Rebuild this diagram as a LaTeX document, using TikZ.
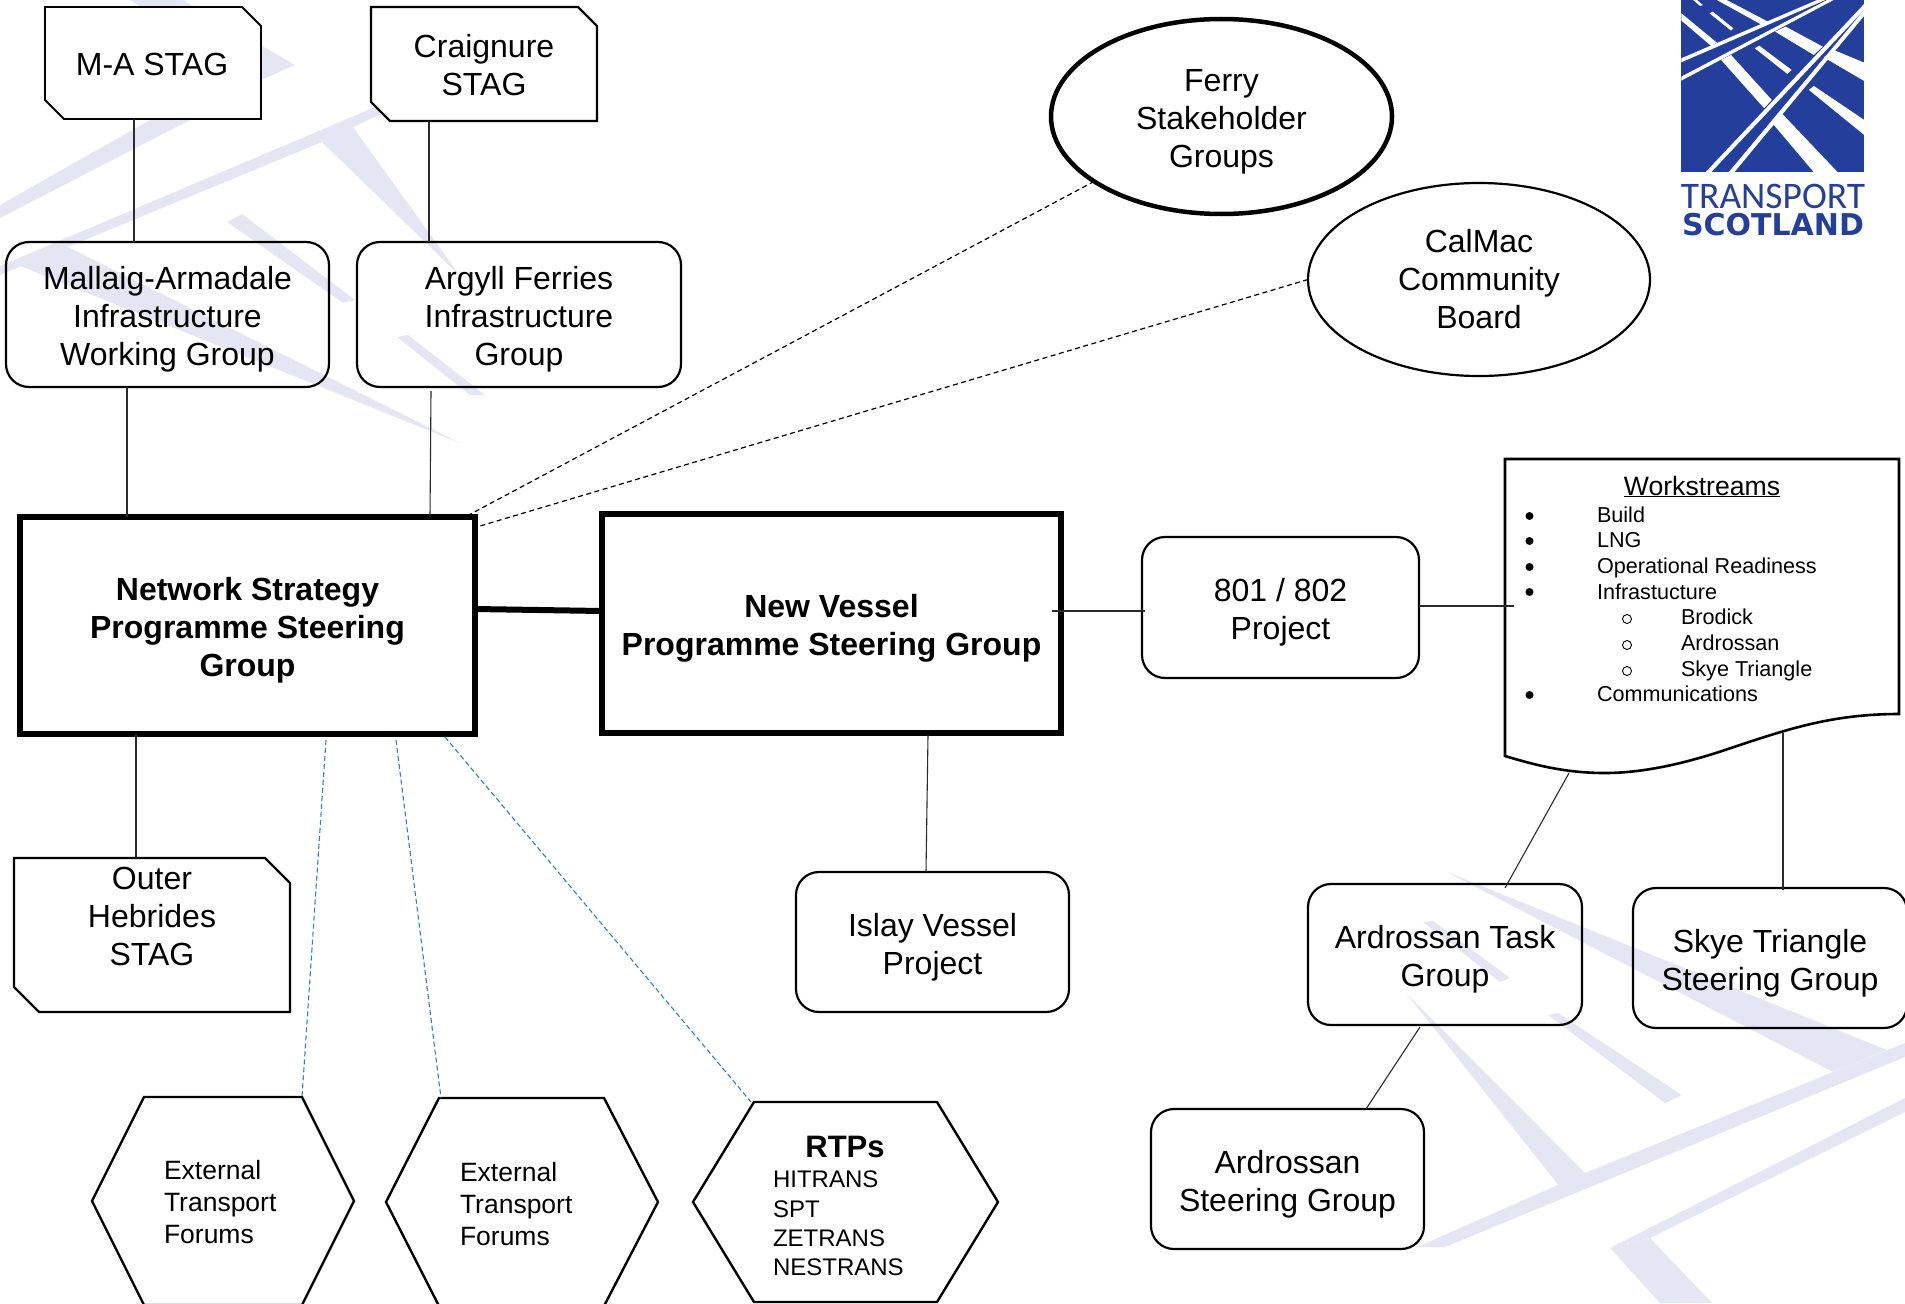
\documentclass[tikz,border=0pt]{standalone}
\usepackage{fontspec}
\setmainfont{Liberation Sans}
\newfontfamily\logolight{Carlito}
\newfontfamily\logobold{DejaVu Sans}
\usetikzlibrary{shapes.geometric}
\definecolor{wmark}{HTML}{E4E7F3}
\definecolor{tsblue}{HTML}{233F9B}
\definecolor{linkblue}{HTML}{2E80C8}
\definecolor{linkgrey}{HTML}{2A2A2A}
\newcommand{\fs}[2]{\fontsize{#1}{#2}\selectfont}
\newcommand{\Tp}{\rule{0pt}{33pt}}
\newcommand{\chamf}[3]{\draw[fill=white,line width=#3pt,line join=miter]
  (#1.north west) -- ([xshift=-#2]#1.north east) -- ([yshift=-#2]#1.north east)
  -- (#1.south east) -- ([xshift=#2]#1.south west) -- ([yshift=#2]#1.south west) -- cycle;}
\tikzset{
  every node/.style={inner sep=0pt,outer sep=0pt},
  label32/.style={font=\fs{32}{38},align=center},
  roundbox/.style={draw,line width=2.2pt,rounded corners=23pt,label32},
  bigbox/.style={draw,fill=white,line width=5.5pt,font=\fs{32}{38}\bfseries,align=center},
  link/.style={line width=1.1pt,color=linkgrey},
  dashlink/.style={line width=1.2pt,dash pattern=on 5pt off 3.5pt},
  bluelink/.style={line width=1.1pt,color=linkblue,dash pattern=on 5pt off 3pt},
  wm/.style={fill=wmark,draw=none},
  hexline/.style={draw,line width=2.4pt,line join=miter},
  small27/.style={font=\fs{26.5}{32},align=left,anchor=west},
  rtp/.style={font=\fs{24}{29},anchor=base west},
  ws/.style={font=\fs{21.6}{26},anchor=base west},
  bullfill/.style={circle,fill=black,minimum size=8pt},
  bullopen/.style={circle,draw=black,line width=0.9pt,minimum size=9pt},
  logo/.style={fill=white,draw=none}
}
\begin{document}
\begin{tikzpicture}[x=1pt,y=-1pt]
\useasboundingbox (0,0) rectangle (1905,1303);
\clip (0,0) rectangle (1905,1303);
% watermark
\fill[wm] (183,0) -- (295,65) -- (261,80) -- (130,0) -- cycle;
\fill[wm] (0,205) -- (150,120) -- (190,120) -- (0,218) -- cycle;
\fill[wm] (0,266) -- (373,108) -- (385,112) -- (322,142) -- (0,275) -- cycle;
\fill[wm] (322,142) -- (353,127) -- (460,276) -- cycle;
\fill[wm] (227,222) -- (242,214) -- (355,300) -- (343,303) -- cycle;
\fill[wm] (397,337) -- (408,335) -- (485,395) -- (470,395) -- cycle;
\fill[wm] (18,265) -- (60,243) -- (460,443) -- cycle;
\fill[wm] (1905,1043) -- (1833,1072) -- (1585,1173) -- (1417,1247) -- (1445,1247) -- (1905,1057) -- cycle;
\fill[wm] (1887,1050) -- (1833,1072) -- (1447,872) -- cycle;
\fill[wm] (1548,1015) -- (1558,1013) -- (1682,1095) -- (1665,1103) -- cycle;
\fill[wm] (1585,1173) -- (1560,1187) -- (1406,993) -- cycle;
\fill[wm] (1423,922) -- (1433,921) -- (1510,978) -- (1500,982) -- cycle;
\fill[wm] (1905,1098) -- (1610,1248) -- (1650,1238) -- (1905,1112) -- cycle;
\fill[wm] (1610,1248) -- (1650,1238) -- (1712,1303) -- (1660,1303) -- cycle;
% logo
\begin{scope}[shift={(1640,0)},x=0.331pt,y=-0.333pt]
\fill[tsblue] (125,0) rectangle (677,517);
\fill[logo] (125,40) -- (125,62) -- (215,138) -- (232,128) -- cycle;
\fill[logo] (245,180) -- (275,165) -- (398,300) -- (375,325) -- cycle;
\fill[logo] (428,340) -- (400,370) -- (525,517) -- (597,517) -- cycle;
\fill[logo] (232,0) -- (262,0) -- (392,68) -- (365,73) -- cycle;
\fill[logo] (440,80) -- (408,95) -- (525,165) -- (552,140) -- cycle;
\fill[logo] (585,150) -- (555,172) -- (677,243) -- (677,188) -- cycle;
\fill[logo] (160,0) -- (172,0) -- (190,15) -- (182,18) -- cycle;
\fill[logo] (210,40) -- (220,35) -- (282,85) -- (275,92) -- cycle;
\fill[logo] (347,145) -- (360,137) -- (458,210) -- (445,222) -- cycle;
\fill[logo] (510,270) -- (525,258) -- (677,360) -- (677,405) -- cycle;
\fill[logo] (125,175) -- (125,187) -- (560,0) -- (535,0) -- cycle;
\fill[logo] (125,230) -- (125,242) -- (585,0) -- (565,0) -- cycle;
\fill[logo] (198,517) -- (215,517) -- (677,30) -- (677,12) -- cycle;
\fill[logo] (268,517) -- (285,517) -- (677,48) -- (677,30) -- cycle;
\end{scope}
\node[font=\logolight\fs{37.5}{36},text=tsblue] (logot) at (1773,196) {TRANSPORT};
\node[font=\logobold\fs{30}{30}\bfseries,text=tsblue] (logos) at (1773,225) {SCOTLAND};
% STAG boxes
\node[minimum width=216pt,minimum height=112pt] (ma) at (153,63) {};
\chamf{ma}{19}{1.8}
\node[label32] (matext) at (152,64) {M-A STAG};
\node[minimum width=226pt,minimum height=114pt] (cr) at (484,64) {};
\chamf{cr}{19}{2.4}
\node[label32] (crtext) at (484,65) {Craignure\\STAG};
\node[minimum width=276pt,minimum height=154pt] (oh) at (152,935) {};
\chamf{oh}{25}{2.2}
\node[label32] (ohtext) at (152,916.5) {Outer\\Hebrides\\STAG};
% other nodes
\node[roundbox,minimum width=323pt,minimum height=145pt] (mall) at (167.5,314.5) {\Tp Mallaig-Armadale\\Infrastructure\\Working Group};
\node[roundbox,minimum width=324pt,minimum height=145pt] (arg) at (519,314.5) {\Tp Argyll Ferries\\Infrastructure\\Group};
\node[draw,line width=4.5pt,ellipse,minimum width=341pt,minimum height=195pt,label32] (ferry) at (1221.5,116.5) {\Tp Ferry\\Stakeholder\\Groups};
\node[draw,line width=2.2pt,ellipse,minimum width=342pt,minimum height=193pt,label32] (cal) at (1479,279.5) {CalMac\\Community\\Board};
\node[bigbox,minimum width=455pt,minimum height=217pt] (ns) at (247.5,625.5) {\Tp Network Strategy\\Programme Steering\\Group};
\node[bigbox,minimum width=459pt,minimum height=219pt] (nv) at (831.5,623.5) {\Tp New Vessel\\Programme Steering Group};
\node[roundbox,minimum width=277pt,minimum height=141pt] (p801) at (1280.5,607.5) {\Tp 801 / 802\\Project};
\node[roundbox,minimum width=273pt,minimum height=140pt] (islay) at (932.5,942) {\Tp Islay Vessel\\Project};
\node[roundbox,minimum width=274pt,minimum height=141pt] (atg) at (1445,954.5) {\Tp Ardrossan Task\\Group};
\node[roundbox,minimum width=274pt,minimum height=140pt] (skye) at (1770,958) {\Tp Skye Triangle\\Steering Group};
\node[roundbox,minimum width=273pt,minimum height=140pt] (asg) at (1287.5,1179) {\Tp Ardrossan\\Steering Group};
% workstreams document
\node[minimum width=394pt,minimum height=314pt] (doc) at (1702,616) {};
\draw[line width=2.6pt,line join=miter] (doc.north west) -- (doc.north east) -- (1899,714)
  .. controls (1830,714) and (1785,730) .. (1725,750)
  .. controls (1680,765) and (1640,773) .. (1605,773)
  .. controls (1565,773) and (1535,765) .. (1505,756) -- cycle;
\node[font=\fs{26.6}{30},anchor=base] (wst) at (1702,495) {\underline{Workstreams}};
\node[ws] (b1) at (1597,522) {Build};
\node[ws] (b2) at (1597,547.7) {LNG};
\node[ws] (b3) at (1597,573.4) {Operational Readiness};
\node[ws] (b4) at (1597,599.1) {Infrastucture};
\node[ws] (b5) at (1681,624.8) {Brodick};
\node[ws] (b6) at (1681,650.5) {Ardrossan};
\node[ws] (b7) at (1681,676.2) {Skye Triangle};
\node[ws] (b8) at (1597,701.9) {Communications};
\node[bullfill] (d1) at (1529.5,516) {};
\node[bullfill] (d2) at (1529.5,541) {};
\node[bullfill] (d3) at (1529.5,567) {};
\node[bullfill] (d4) at (1529.5,592) {};
\node[bullopen] (d5) at (1627,619) {};
\node[bullopen] (d6) at (1627,645) {};
\node[bullopen] (d7) at (1627,671) {};
\node[bullfill] (d8) at (1529.5,695) {};
% hexagons
\node[minimum width=262pt,minimum height=208pt] (h1) at (223,1201) {};
\draw[hexline] ([xshift=52]h1.north west) -- ([xshift=-52]h1.north east) -- (h1.east) -- ([xshift=-52]h1.south east) -- ([xshift=52]h1.south west) -- (h1.west) -- cycle;
\node[small27] (h1t) at (164,1202) {External\\Transport\\Forums};
\node[minimum width=272pt,minimum height=208pt] (h2) at (522,1202) {};
\draw[hexline] ([xshift=53]h2.north west) -- ([xshift=-54]h2.north east) -- (h2.east) -- ([xshift=-54]h2.south east) -- ([xshift=53]h2.south west) -- (h2.west) -- cycle;
\node[small27] (h2t) at (460,1204) {External\\Transport\\Forums};
\node[minimum width=305pt,minimum height=200pt] (h3) at (845.5,1202) {};
\draw[hexline] ([xshift=61]h3.north west) -- ([xshift=-61]h3.north east) -- (h3.east) -- ([xshift=-61]h3.south east) -- ([xshift=61]h3.south west) -- (h3.west) -- cycle;
\node[font=\fs{31}{31}\bfseries,anchor=base] (h3a) at (845,1157) {RTPs};
\node[rtp] (h3b) at (773,1187) {HITRANS};
\node[rtp] (h3c) at (773,1217) {SPT};
\node[rtp] (h3d) at (773,1246) {ZETRANS};
\node[rtp] (h3e) at (773,1275) {NESTRANS};
% connectors
\draw[link] ([xshift=-19]ma.south) -- ([xshift=-33.5]mall.north);
\draw[link] ([xshift=-55]cr.south) -- ([xshift=-90]arg.north);
\draw[link] ([xshift=-40.5]mall.south) -- ([xshift=-120.5]ns.north);
\draw[link] ([xshift=-88,yshift=-4]arg.south) -- ([xshift=182.5]ns.north);
\draw[link] ([xshift=-111.5]ns.south) -- ([xshift=-16]oh.north);
\draw[dashlink] (ferry.207) -- ([xshift=-10]ns.north east);
\draw[dashlink] (cal.west) -- ([xshift=5,yshift=-9]ns.north east);
\draw[bluelink] ([xshift=78.5,yshift=-6]ns.south) -- ([xshift=79]h1.north);
\draw[bluelink] ([xshift=148.5,yshift=-6]ns.south) -- ([xshift=-81]h2.north);
\draw[bluelink] ([xshift=197.5,yshift=-3]ns.south) -- ([xshift=-94.5]h3.north);
\draw[line width=6pt] ([yshift=16.5]ns.east) -- ([yshift=12.5]nv.west);
\draw[link] ([xshift=-9.5,yshift=12.5]nv.east) -- ([xshift=3,yshift=-3.5]p801.west);
\draw[link] ([yshift=1.5]p801.east) -- ([xshift=9,yshift=10]doc.west);
\draw[link] ([xshift=96.5,yshift=-2]nv.south) -- ([xshift=-6.5]islay.north);
\draw[link] ([xshift=-133]doc.south) -- ([xshift=60,yshift=-4]atg.north);
\draw[link] ([xshift=81,yshift=40]doc.south) -- ([xshift=13,yshift=-2]skye.north);
\draw[link] ([xshift=-25,yshift=-2]atg.south) -- ([xshift=78.5]asg.north);
\end{tikzpicture}
\end{document}
